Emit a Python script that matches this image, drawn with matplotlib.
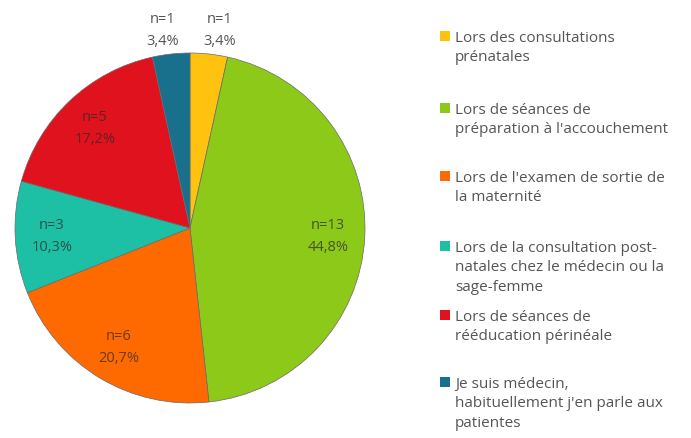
import matplotlib
matplotlib.use("Agg")
import matplotlib.pyplot as plt
import numpy as np
from matplotlib.patches import Rectangle

categories = [
    "Lors des consultations\nprénatales",
    "Lors de séances de\npréparation à l'accouchement",
    "Lors de l'examen de sortie de\nla maternité",
    "Lors de la consultation post-\nnatales chez le médecin ou la\nsage-femme",
    "Lors de séances de\nrééducation périnéale",
    "Je suis médecin,\nhabituellement j'en parle aux\npatientes",
]
counts = [1, 13, 6, 3, 5, 1]
percent_labels = ["3,4%", "44,8%", "20,7%", "10,3%", "17,2%", "3,4%"]
colors = ["#FFC20E", "#8DC919", "#FF6A00", "#1DBFA5", "#E0121E", "#19708C"]

plt.rcParams['font.family'] = ['Open Sans', 'DejaVu Sans']
text_color = "#555555"

fig = plt.figure(figsize=(6.91, 4.39), dpi=100)
ax = fig.add_axes([15/691, 1 - 404/439, 350/691, 350/439])

wedges, _ = ax.pie(counts, colors=colors, startangle=90, counterclock=False,
                   wedgeprops=dict(edgecolor="#6a6a6a", linewidth=0.5))
ax.set_aspect('equal')
ax.set_xlim(-1, 1)
ax.set_ylim(-1, 1)

for i, w in enumerate(wedges):
    ang = np.deg2rad((w.theta1 + w.theta2) / 2)
    if counts[i] <= 1:
        r = 1.14
        x = r * np.cos(ang)
        x = 0.17 if x > 0 else -0.155
        col, alpha = text_color, 1.0
    else:
        r = 0.79
        x = r * np.cos(ang)
        col, alpha = "#2a2a2a", 0.72
    y = r * np.sin(ang)
    ax.text(x, y, f"n={counts[i]}\n{percent_labels[i]}", ha='center', va='center',
            fontsize=10.5, color=col, alpha=alpha, linespacing=1.6, clip_on=False)

# legend drawn manually to mimic the irregular spacing of the original
legend_tops = [32, 104, 172, 242, 311, 378]
for cat, col, ytop in zip(categories, colors, legend_tops):
    fig.text(455/691, 1 - (ytop - 1)/439, cat, ha='left', va='top',
             fontsize=11, color=text_color, linespacing=1.4)
    fig.patches.append(Rectangle((440/691, 1 - (ytop + 10)/439), 10/691, 10/439,
                                 transform=fig.transFigure, facecolor=col,
                                 edgecolor='none'))

fig.savefig("out.png", dpi=100)
